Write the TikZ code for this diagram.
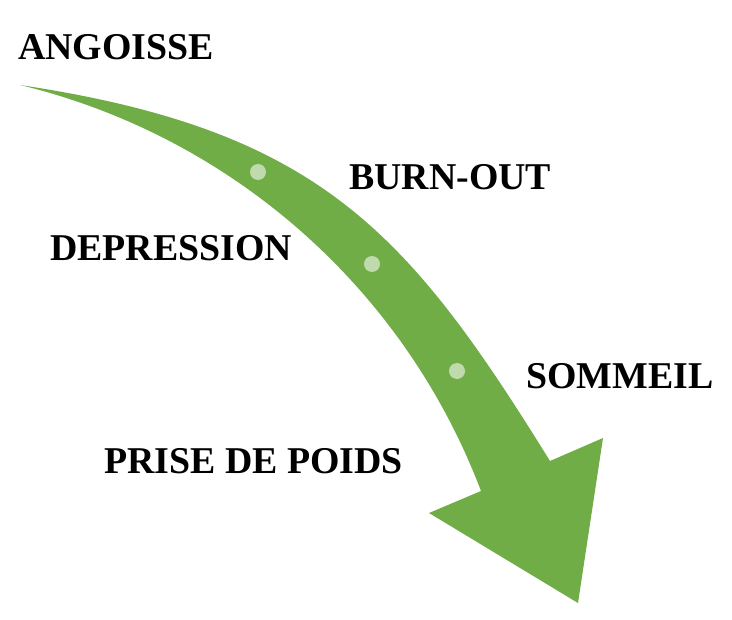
\documentclass[tikz,border=0pt]{standalone}
\usepackage[HTML]{xcolor}
\usepackage{fontspec}
\setmainfont{Liberation Serif}
\usepackage{tikz}
\definecolor{arrowgreen}{HTML}{70AD47}

\begin{document}
\begin{tikzpicture}[x=1bp, y=-1bp,
  word/.style={anchor=base west, inner sep=0pt, font=\fontsize{38}{40}\selectfont\bfseries},
  dot/.style={circle, fill=arrowgreen!45!white, inner sep=0pt, minimum size=16bp}]
\useasboundingbox (0,0) rectangle (732,620);
% Arrow outline
\coordinate (T0) at (20,85);
\coordinate (J1) at (550,461);
\coordinate (W1) at (603,438);
\coordinate (T1) at (578,603);
\coordinate (W2) at (429,513);
\coordinate (J2) at (481,491);

\fill[arrowgreen] (T0) .. controls (320,130) and (408,232) .. (J1) -- (W1) -- (T1)
  -- (W2) -- (J2) .. controls (404,288) and (231,136) .. cycle;

% Dots on the arrow
\foreach \x/\y [count=\i] in {258/172, 372/264, 457/371}
  \node[dot] (d\i) at (\x,\y) {};

% Labels
\node[word] (angoisse) at (18,60) {ANGOISSE};
\node[word] (burnout) at (349,190) {BURN-OUT};
\node[word] (depression) at (50,260) {DEPRESSION};
\node[word] (sommeil) at (526,388) {SOMMEIL};
\node[word] (poids) at (104,473) {PRISE DE POIDS};
\end{tikzpicture}
\end{document}
